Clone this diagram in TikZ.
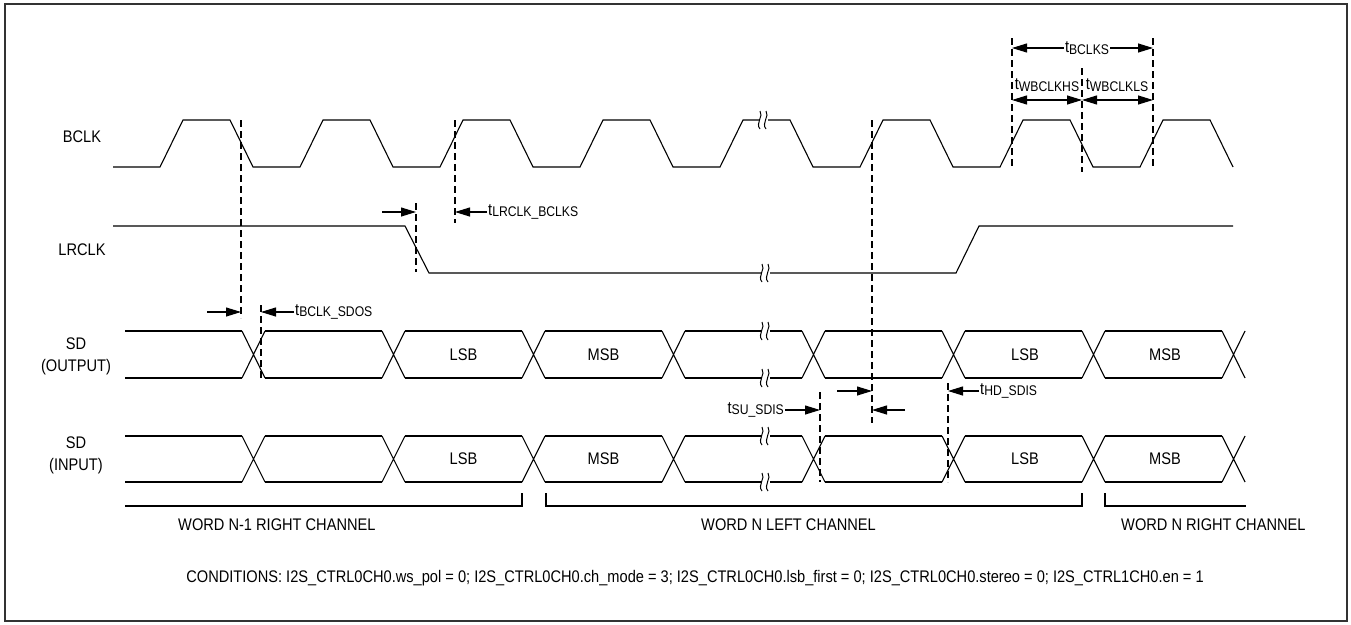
\documentclass[tikz,border=0pt]{standalone}
\usepackage{fontspec}
\setmainfont{Liberation Sans}[FakeStretch=0.87]
\usetikzlibrary{arrows.meta}

\newcommand{\tsub}[1]{t\raisebox{-1.5pt}{\fontsize{14}{14}\selectfont #1}}

\tikzset{
  sig/.style={line width=1.1pt, line join=miter},
  guide/.style={line width=1.1pt, dash pattern=on 7pt off 4pt},
  tarr/.style={line width=1.1pt, -{Triangle[length=15pt,width=9pt]}},
  tboth/.style={line width=1.1pt, {Triangle[length=15pt,width=9pt]}-{Triangle[length=15pt,width=9pt]}},
  lbl/.style={inner sep=1pt},
  brk/.pic={
    \fill[white] (-4.5,-3) rectangle (4.5,3);
    \draw[line width=1pt] (-3,-9) .. controls (1,-4) and (-8,3) .. (-3,9);
    \draw[line width=1pt] (3,-9) .. controls (7,-4) and (-2,3) .. (3,9);
  }
}

\begin{document}
\begin{tikzpicture}[x=1pt,y=-1pt,font=\fontsize{16.8}{22}\selectfont]
  \useasboundingbox (0,0) rectangle (1351,624);
  \draw[line width=1.5pt, black!80] (5,4) rectangle (1347,621);

  % signal names
  \node[lbl] (bclk) at (82,137) {BCLK};
  \node[lbl] (lrclk) at (82,250) {LRCLK};
  \node[lbl, align=center] (sdout) at (76,356) {SD\\(OUTPUT)};
  \node[lbl, align=center] (sdin) at (76,455) {SD\\(INPUT)};

  % BCLK
  \draw[sig] (113,167) \foreach \x in {160,300,...,1140} { -- (\x,167) -- (\x+23,120) -- (\x+70,120) -- (\x+93,167) };
  \pic at (763,120) {brk};

  % LRCLK
  \draw[sig] (113,226) -- (405,226) -- (429,273) -- (956,273) -- (979,226) -- (1233,226);
  \pic at (765,273) {brk};

  % SD buses
  \foreach \yt/\yb in {331/378,436/482} {
    \draw[sig] (125,\yt) -- (242,\yt) (125,\yb) -- (242,\yb);
    \foreach \x in {242,382,...,1222}
      \draw[sig] (\x,\yt) -- (\x+23,\yb) (\x,\yb) -- (\x+23,\yt);
    \foreach \x in {265,405,...,1105}
      \draw[sig] (\x,\yt) -- (\x+117,\yt) (\x,\yb) -- (\x+117,\yb);
    \pic at (765,\yt) {brk};
    \pic at (765,\yb) {brk};
  }
  \node (lsb1) at (463.5,354.5) {LSB};
  \node (msb1) at (603.5,354.5) {MSB};
  \node (lsb2) at (1025,354.5) {LSB};
  \node (msb2) at (1165,354.5) {MSB};
  \node (lsb3) at (463.5,459) {LSB};
  \node (msb3) at (603.5,459) {MSB};
  \node (lsb4) at (1025,459) {LSB};
  \node (msb4) at (1165,459) {MSB};

  % timing guides
  \draw[guide] (241,120) -- (241,318);
  \draw[guide] (261,305) -- (261,378);
  \draw[guide] (455,120) -- (455,223);
  \draw[guide] (416,203) -- (416,272);
  \draw[guide] (872,120) -- (872,423);
  \draw[guide] (820,392) -- (820,482);
  \draw[guide] (948,383) -- (948,482);
  \draw[guide] (1012,38) -- (1012,168);
  \draw[guide] (1153,38) -- (1153,168);
  \draw[guide] (1082,68) -- (1082,172);

  % timing parameters
  \node[lbl] (tbclks) at (1087,48) {\tsub{BCLKS}};
  \draw[tarr] (tbclks.west) -- (1012,48);
  \draw[tarr] (tbclks.east) -- (1153,48);
  \node[lbl] (twhigh) at (1047,85) {\tsub{WBCLKHS}};
  \node[lbl] (twlow) at (1117,85) {\tsub{WBCLKLS}};
  \draw[tboth] (1012,100) -- (1082,100);
  \draw[tboth] (1082,100) -- (1153,100);

  \draw[tarr] (382,212) -- (416,212);
  \node[lbl, anchor=west] (tlrclk) at (487,212) {\tsub{LRCLK\_BCLKS}};
  \draw[tarr] (tlrclk.west) -- (455,212);

  \draw[tarr] (207,312) -- (241,312);
  \node[lbl, anchor=west] (tsdos) at (294,312) {\tsub{BCLK\_SDOS}};
  \draw[tarr] (tsdos.west) -- (261,312);

  \node[lbl, anchor=east] (tsu) at (785,410) {\tsub{SU\_SDIS}};
  \draw[tarr] (tsu.east) -- (820,410);
  \draw[tarr] (837,391) -- (872,391);
  \draw[tarr] (905,410) -- (872,410);
  \node[lbl, anchor=west] (thd) at (979,391) {\tsub{HD\_SDIS}};
  \draw[tarr] (thd.west) -- (948,391);

  % channel brackets
  \draw[sig] (125,506) -- (522,506) -- (522,493);
  \draw[sig] (546,493) -- (546,506) -- (1082,506) -- (1082,493);
  \draw[sig] (1105,493) -- (1105,506) -- (1246,506);
  \node[lbl, anchor=west] (wordr1) at (177,525) {WORD N-1 RIGHT CHANNEL};
  \node[lbl, anchor=west] (wordl) at (700,525) {WORD N LEFT CHANNEL};
  \node[lbl, anchor=west] (wordr2) at (1120,525) {WORD N RIGHT CHANNEL};

  \node[lbl, anchor=east] (cond) at (1205,578) {CONDITIONS: I2S\_CTRL0CH0.ws\_pol = 0; I2S\_CTRL0CH0.ch\_mode = 3; I2S\_CTRL0CH0.lsb\_first = 0; I2S\_CTRL0CH0.stereo = 0; I2S\_CTRL1CH0.en = 1};
\end{tikzpicture}
\end{document}
